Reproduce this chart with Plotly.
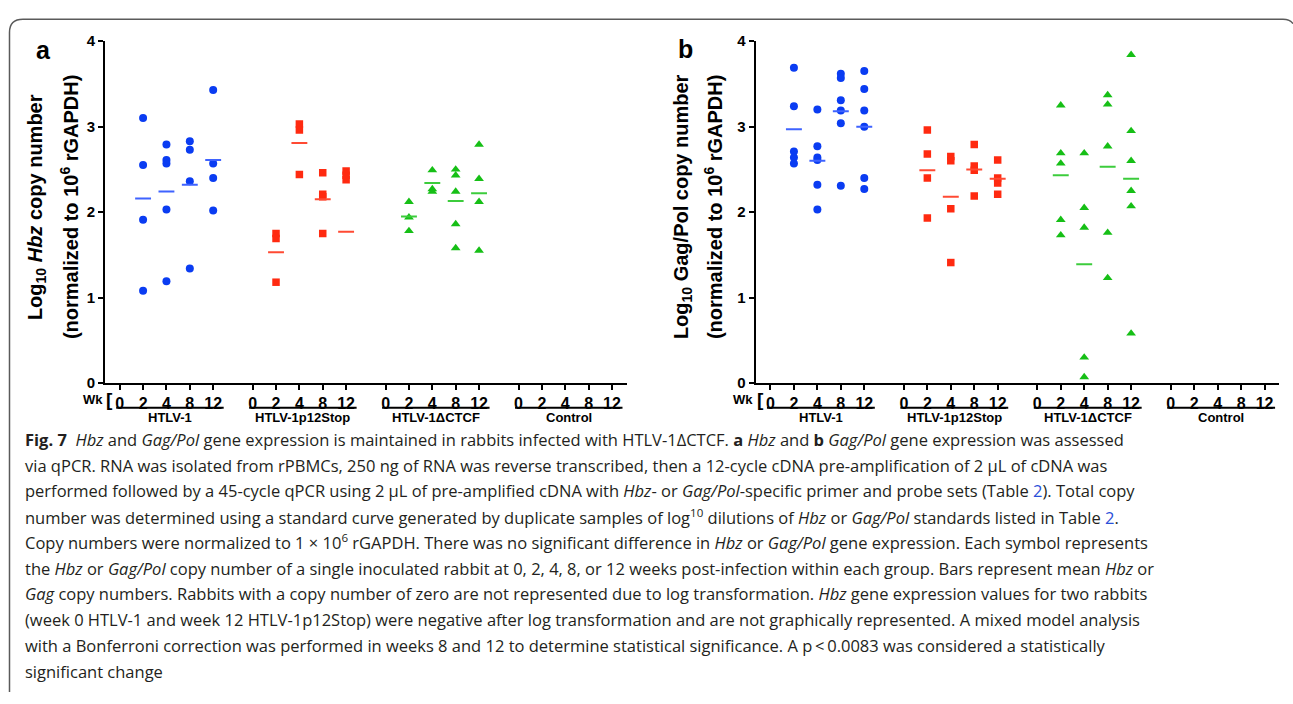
import plotly.graph_objects as go

W, H = 1293, 704
G = 5.69  # spacing between groups in week-slot units

weeks = ["0", "2", "4", "8", "12"]
groups = ["HTLV-1", "HTLV-1p12Stop", "HTLV-1\u0394CTCF", "Control"]

# ---- Panel a: Log10 Hbz copy number ----
a_htlv1 = [[], [3.10, 2.55, 1.91, 1.08], [2.79, 2.61, 2.57, 2.03, 1.19], [2.83, 2.73, 2.36, 1.34], [3.43, 2.57, 2.40, 2.02]]
a_htlv1_mean = [None, 2.16, 2.24, 2.32, 2.61]
a_p12 = [[], [1.75, 1.69, 1.18], [3.03, 2.96, 2.44], [2.46, 2.21, 2.18, 1.75], [2.48, 2.43, 2.38]]
a_p12_mean = [None, 1.53, 2.81, 2.15, 1.77]
a_ctcf = [[], [2.12, 1.94, 1.78], [2.49, 2.27, 2.24], [2.50, 2.43, 2.24, 1.86, 1.58], [2.79, 2.39, 2.12, 1.55]]
a_ctcf_mean = [None, 1.95, 2.34, 2.13, 2.22]
a_ctrl = [[], [], [], [], []]

# ---- Panel b: Log10 Gag/Pol copy number ----
b_htlv1 = [[], [3.69, 3.24, 2.71, 2.64, 2.57], [3.20, 2.77, 2.64, 2.61, 2.32, 2.03], [3.62, 3.57, 3.31, 3.19, 3.04, 2.31], [3.65, 3.44, 3.19, 3.00, 2.40, 2.27]]
b_htlv1_mean = [None, 2.97, 2.60, 3.18, 3.00]
b_p12 = [[], [2.96, 2.68, 2.40, 1.93], [2.65, 2.60, 2.04, 1.41], [2.79, 2.54, 2.49, 2.19], [2.61, 2.40, 2.34, 2.21]]
b_p12_mean = [None, 2.49, 2.18, 2.50, 2.39]
b_ctcf = [[], [3.25, 2.69, 2.57, 1.91, 1.73], [2.69, 2.05, 1.82, 0.30, 0.07], [3.37, 3.26, 2.77, 1.76, 1.23], [3.84, 2.95, 2.60, 2.25, 2.07, 0.58]]
b_ctcf_mean = [None, 2.43, 1.39, 2.53, 2.39]
b_ctrl = [[], [], [], [], []]

BLUE, BLUE_M = "#0a3cf2", "#3f63ff"
RED, RED_M = "#ff2a10", "#ff4a33"
GREEN, GREEN_M = "#16bf16", "#3ccc3c"

styles = [
    (BLUE, BLUE_M, "circle", 8),
    (RED, RED_M, "square", 7.5),
    (GREEN, GREEN_M, "triangle-up", 8.5),
    ("#888888", "#888888", "diamond", 8),
]

fig = go.Figure()

panels = [
    ("x", "y", [a_htlv1, a_p12, a_ctcf, a_ctrl], [a_htlv1_mean, a_p12_mean, a_ctcf_mean, [None] * 5]),
    ("x2", "y2", [b_htlv1, b_p12, b_ctcf, b_ctrl], [b_htlv1_mean, b_p12_mean, b_ctcf_mean, [None] * 5]),
]

HALF = 0.34
for xa, ya, series, means in panels:
    for g, (vals, mns) in enumerate(zip(series, means)):
        col, mcol, sym, sz = styles[g]
        xs, ys = [], []
        for i, pts in enumerate(vals):
            for v in pts:
                xs.append(g * G + i)
                ys.append(v)
        if xs:
            fig.add_trace(go.Scatter(x=xs, y=ys, mode="markers", xaxis=xa, yaxis=ya,
                                     marker=dict(symbol=sym, size=sz, color=col, line=dict(width=0)),
                                     showlegend=False, hoverinfo="y"))
        lx, ly = [], []
        for i, m in enumerate(mns):
            if m is None:
                continue
            c = g * G + i
            lx += [c - HALF, c + HALF, None]
            ly += [m, m, None]
        if lx:
            fig.add_trace(go.Scatter(x=lx, y=ly, mode="lines", xaxis=xa, yaxis=ya,
                                     line=dict(color=mcol, width=2), showlegend=False, hoverinfo="skip"))

tickvals = [g * G + i for g in range(4) for i in range(5)]
ticktext = weeks * 4

def px(x):
    return x / W

def py(y):
    return 1 - y / H

common_x = dict(range=[-0.63, 21.7], showline=True, linecolor="black", linewidth=2,
                ticks="outside", ticklen=5, tickwidth=2, tickcolor="black",
                tickvals=tickvals, ticktext=ticktext, showgrid=False, zeroline=False,
                tickfont=dict(family="Arial, Liberation Sans", size=16, color="black", weight="bold"))
common_y = dict(range=[0, 4], showline=True, linecolor="black", linewidth=2,
                ticks="outside", ticklen=5, tickwidth=2, tickcolor="black",
                tickvals=[0, 1, 2, 3, 4], showgrid=False, zeroline=False,
                tickfont=dict(family="Arial, Liberation Sans", size=15, color="black", weight="bold"))

ydom = [py(383.3), py(33)]
fig.update_layout(
    width=W, height=H, margin=dict(l=0, r=0, t=0, b=0),
    paper_bgcolor="white", plot_bgcolor="white",
    xaxis=dict(domain=[px(105), px(626.7)], anchor="y", **common_x),
    yaxis=dict(domain=ydom, anchor="x", **common_y),
    xaxis2=dict(domain=[px(755.7), px(1279.3)], anchor="y2", **common_x),
    yaxis2=dict(domain=ydom, anchor="x2", **common_y),
)

ann = []
shapes = []
bold = dict(family="Arial, Liberation Sans", color="black")

for xr, wk_right, br_x in [("x", 105, 109.5), ("x2", 755, 760)]:
    for g, name in enumerate(groups):
        shapes.append(dict(type="line", xref=xr, yref="paper", x0=g * G - 0.15, x1=g * G + 4.45,
                           y0=py(408.5), y1=py(408.5), line=dict(color="black", width=2)))
        ann.append(dict(xref=xr, yref="paper", x=g * G + 2.15, y=py(419), text="<b>%s</b>" % name,
                        showarrow=False, font=dict(size=13, **bold), xanchor="center", yanchor="middle"))
    ann.append(dict(xref="paper", yref="paper", x=px(wk_right), y=py(400.5), text="<b>Wk</b>",
                    showarrow=False, font=dict(size=13, **bold), xanchor="right", yanchor="middle"))
    ann.append(dict(xref="paper", yref="paper", x=px(br_x), y=py(400), text="<b>[</b>",
                    showarrow=False, font=dict(size=19, **bold), xanchor="center", yanchor="middle"))

# panel letters
ann.append(dict(xref="paper", yref="paper", x=px(43), y=py(42), text="<b>a</b>", showarrow=False,
                font=dict(size=25, **bold), xanchor="center", yanchor="middle"))
ann.append(dict(xref="paper", yref="paper", x=px(685), y=py(41), text="<b>b</b>", showarrow=False,
                font=dict(size=25, **bold), xanchor="center", yanchor="middle"))

# y-axis titles
for x1, x2, l1 in [(36, 69, "<b>Log<sub>10</sub> <i>Hbz</i> copy number</b>"),
                   (682, 713, "<b>Log<sub>10</sub> Gag/Pol copy number</b>")]:
    ann.append(dict(xref="paper", yref="paper", x=px(x1), y=py(203), text=l1, textangle=-90,
                    showarrow=False, font=dict(size=20, **bold), xanchor="center", yanchor="middle"))
    ann.append(dict(xref="paper", yref="paper", x=px(x2), y=py(203),
                    text="<b>(normalized to 10<sup>6</sup> rGAPDH)</b>", textangle=-90,
                    showarrow=False, font=dict(size=20, **bold), xanchor="center", yanchor="middle"))

# caption
LINK = "<span style='color:#2a4fd8'>2</span>"
caption = [
    "<b>Fig. 7</b>  <i>Hbz</i> and <i>Gag/Pol</i> gene expression is maintained in rabbits infected with HTLV-1\u0394CTCF. <b>a</b> <i>Hbz</i> and <b>b</b> <i>Gag/Pol</i> gene expression was assessed",
    "via qPCR. RNA was isolated from rPBMCs, 250 ng of RNA was reverse transcribed, then a 12-cycle cDNA pre-amplification of 2 \u00b5L of cDNA was",
    "performed followed by a 45-cycle qPCR using 2 \u00b5L of pre-amplified cDNA with <i>Hbz</i>- or <i>Gag/Pol</i>-specific primer and probe sets (Table %s). Total copy" % LINK,
    "number was determined using a standard curve generated by duplicate samples of log<sup>10</sup> dilutions of <i>Hbz</i> or <i>Gag/Pol</i> standards listed in Table %s." % LINK,
    "Copy numbers were normalized to 1 \u00d7 10<sup>6</sup> rGAPDH. There was no significant difference in <i>Hbz</i> or <i>Gag/Pol</i> gene expression. Each symbol represents",
    "the <i>Hbz</i> or <i>Gag/Pol</i> copy number of a single inoculated rabbit at 0, 2, 4, 8, or 12 weeks post-infection within each group. Bars represent mean <i>Hbz</i> or",
    "<i>Gag</i> copy numbers. Rabbits with a copy number of zero are not represented due to log transformation. <i>Hbz</i> gene expression values for two rabbits",
    "(week 0 HTLV-1 and week 12 HTLV-1p12Stop) were negative after log transformation and are not graphically represented. A mixed model analysis",
    "with a Bonferroni correction was performed in weeks 8 and 12 to determine statistical significance. A p\u2009<\u20090.0083 was considered a statistically",
    "significant change",
]
for k, line in enumerate(caption):
    ann.append(dict(xref="paper", yref="paper", x=px(23), y=py(441 + 26.4 * k), text=line,
                    showarrow=False, xanchor="left", yanchor="middle", align="left",
                    font=dict(family="Open Sans", size=16.5, color="#231f20")))

# outer frame (top and left edges with rounded corner)
shapes.append(dict(type="path", xref="paper", yref="paper",
                   path="M %f,%f L %f,%f Q %f,%f %f,%f L %f,%f Q %f,%f %f,%f" % (
                       px(9.5), py(700), px(9.5), py(24), px(9.5), py(10.5), px(23), py(10.5),
                       px(1283), py(10.5), px(1290), py(10.5), px(1293), py(15)),
                   line=dict(color="#5a5a5a", width=1.5)))

fig.update_layout(annotations=ann, shapes=shapes)
fig.write_html("out.html", config={"displayModeBar": False},
               post_script="document.body.style.margin='0';document.body.style.overflow='hidden';")
